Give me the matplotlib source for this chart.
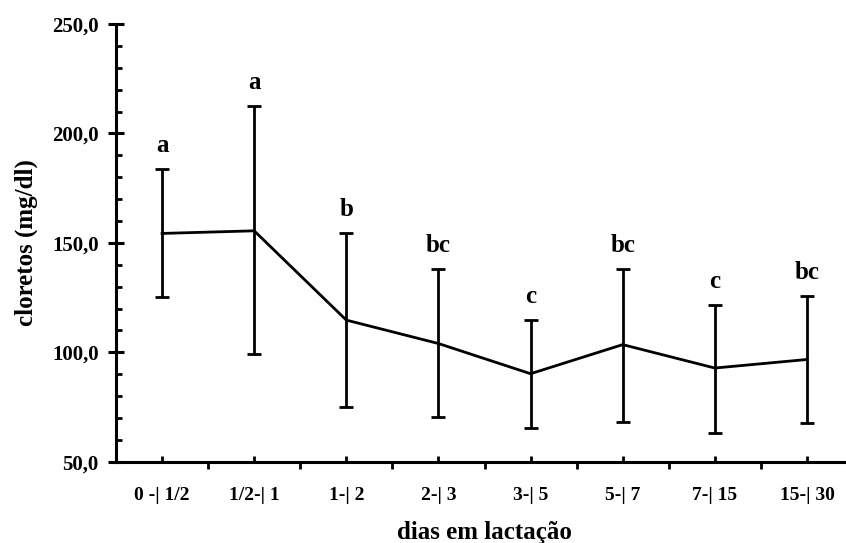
import numpy as np
import matplotlib.pyplot as plt

# dados
periodos = ['0 -| 1/2', '1/2-| 1', '1-| 2', '2-| 3', '3-| 5', '5-| 7', '7-| 15', '15-| 30']
media = [154.3, 155.5, 114.7, 104.0, 90.2, 103.5, 92.8, 96.7]
sup = [183.7, 212.4, 154.3, 137.9, 114.7, 137.9, 121.6, 125.7]
inf = [125.2, 99.3, 75.2, 70.2, 65.3, 68.3, 63.3, 67.6]
letras = ['a', 'a', 'b', 'bc', 'c', 'bc', 'c', 'bc']
yticks = [50, 100, 150, 200, 250]
ytick_labels = ['50,0', '100,0', '150,0', '200,0', '250,0']

plt.rcParams['font.family'] = 'Liberation Serif'
plt.rcParams['font.weight'] = 'bold'

fig = plt.figure(figsize=(8.46, 5.43), dpi=100)
ax = fig.add_axes([116/846, 81.3/543, (853-116)/846, (461.7-24)/543])

x = np.arange(len(periodos))
media = np.array(media)
err = [media - np.array(inf), np.array(sup) - media]

ax.errorbar(x, media, yerr=err, color='black', lw=2.0, elinewidth=2.0,
            capsize=5, capthick=2.0, clip_on=False)

for xi, s, l in zip(x, sup, letras):
    ax.annotate(l, (xi, s), xytext=(0, 17), textcoords='offset points',
                ha='center', va='center', fontsize=18, fontweight='bold')

ax.set_xlim(-0.5, 7.5)
ax.set_ylim(50, 250)

ax.spines['top'].set_visible(False)
ax.spines['right'].set_visible(False)
ax.spines['left'].set_linewidth(2.2)
ax.spines['bottom'].set_linewidth(2.2)

ax.set_yticks(yticks)
ax.set_yticklabels(ytick_labels)
ax.set_yticks(np.arange(50, 251, 10), minor=True)
ax.tick_params(axis='y', which='major', direction='inout', length=11, width=2.2,
               labelsize=15, pad=7)
ax.tick_params(axis='y', which='minor', direction='in', length=4, width=2.0)

ax.set_xticks(x)
ax.set_xticklabels(periodos)
ax.set_xticks(np.arange(0.5, 7.5, 1), minor=True)
ax.tick_params(axis='x', which='major', direction='in', length=4, width=2.0,
               labelsize=14, pad=18)
ax.tick_params(axis='x', which='minor', direction='out', length=5, width=2.0)

ax.set_xlabel('dias em lactação', fontsize=18, fontweight='bold', va='baseline')
ax.xaxis.set_label_coords(0.5, -0.176)
ax.set_ylabel('cloretos (mg/dl)', fontsize=18, fontweight='bold', labelpad=10)

plt.savefig('out.png', dpi=100)
